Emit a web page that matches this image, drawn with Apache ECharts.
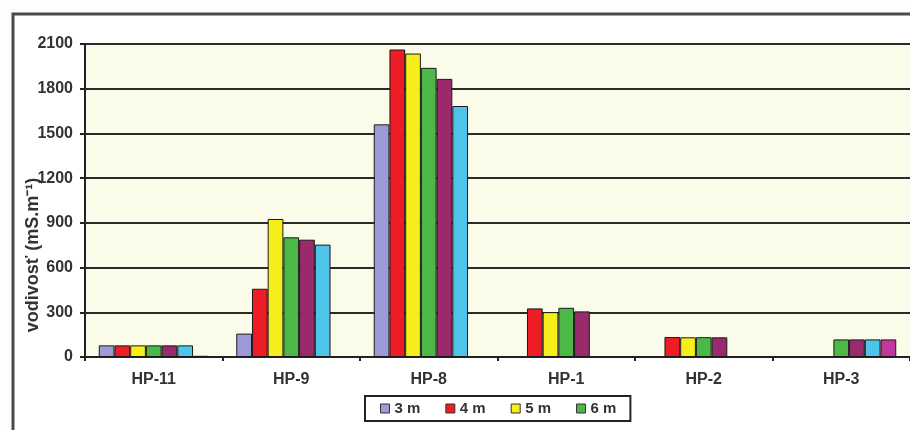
<!DOCTYPE html>
<html>
<head>
<meta charset="utf-8">
<script src="https://cdn.jsdelivr.net/npm/echarts@6/dist/echarts.min.js"></script>
<style>html,body{margin:0;padding:0;background:#fdfdfd}#c{width:910px;height:430px}</style>
</head>
<body>
<div id="c"></div>
<script>
const categories = ['HP-11', 'HP-9', 'HP-8', 'HP-1', 'HP-2', 'HP-3'];
const seriesNames = ['3 m', '4 m', '5 m', '6 m', '7 m', '8 m', '9 m'];
const s3m = [78, 157, 1561, null, null, null];
const s4m = [78, 458, 2063, 326, 134, null];
const s5m = [78, 926, 2036, 301, 132, null];
const s6m = [78, 803, 1940, 330, 133, 118];
const s7m = [78, 787, 1866, 306, 132, 118];
const s8m = [78, 754, 1684, null, null, 118];
const s9m = [8, null, null, null, null, 118];
const legendShown = ['3 m', '4 m', '5 m', '6 m'];
const yTicks = [0, 300, 600, 900, 1200, 1500, 1800, 2100];
const yTitle = 'vodivosť (mS.m⁻¹)';

const allData = [s3m, s4m, s5m, s6m, s7m, s8m, s9m];
const colors = ['#9c9bd8', '#ee1c24', '#f6ee1a', '#4cb848', '#9a2a6c', '#4ec4e8', '#c2379c'];
const font = 'Liberation Sans, Arial, sans-serif';

const chart = echarts.init(document.getElementById('c'), null, {renderer: 'canvas'});
chart.setOption({
  backgroundColor: '#fdfdfd',
  animation: false,
  graphic: [{
    type: 'rect',
    shape: {x: 13, y: 14, width: 930, height: 440},
    style: {fill: '#ffffff', stroke: '#4a4a4a', lineWidth: 3},
    z: -10
  }, {
    type: 'text',
    x: 33, y: 255,
    rotation: Math.PI / 2,
    style: {text: yTitle, font: 'bold 18px ' + font, fill: '#333', align: 'center', verticalAlign: 'middle'},
    z: 10
  }],
  grid: {
    left: 85, top: 44, width: 831, height: 313,
    show: true, backgroundColor: '#fbfbea', borderWidth: 0
  },
  legend: {
    data: legendShown,
    left: 365, top: 396,
    itemWidth: 9, itemHeight: 9, itemGap: 25,
    padding: [5, 14, 5, 15],
    borderColor: '#222', borderWidth: 2,
    backgroundColor: '#ffffff',
    textStyle: {fontFamily: font, fontWeight: 'bold', fontSize: 15, color: '#333'},
    icon: 'rect',
    itemStyle: {borderColor: '#333', borderWidth: 1}
  },
  xAxis: {
    type: 'category',
    data: categories,
    axisLine: {lineStyle: {color: '#222', width: 2}},
    axisTick: {show: true, length: 4, lineStyle: {color: '#222', width: 2}},
    axisLabel: {margin: 15, fontFamily: font, fontWeight: 'bold', fontSize: 16, color: '#333'}
  },
  yAxis: {
    type: 'value',
    min: 0, max: 2100, interval: 300,
    axisLine: {show: true, lineStyle: {color: '#222', width: 2}},
    axisTick: {show: true, inside: false, length: 5, lineStyle: {color: '#222', width: 2}},
    axisLabel: {margin: 12, fontFamily: font, fontWeight: 'bold', fontSize: 16, color: '#333',
      formatter: v => yTicks.includes(v) ? String(v) : ''},
    splitLine: {show: true, lineStyle: {color: '#2a2a2a', width: 2}}
  },
  series: seriesNames.map((n, i) => ({
    name: n,
    type: 'bar',
    data: allData[i],
    barGap: '0%',
    barCategoryGap: '20%',
    itemStyle: {color: colors[i], borderColor: '#1a1a1a', borderWidth: 1}
  }))
});
</script>
</body>
</html>
